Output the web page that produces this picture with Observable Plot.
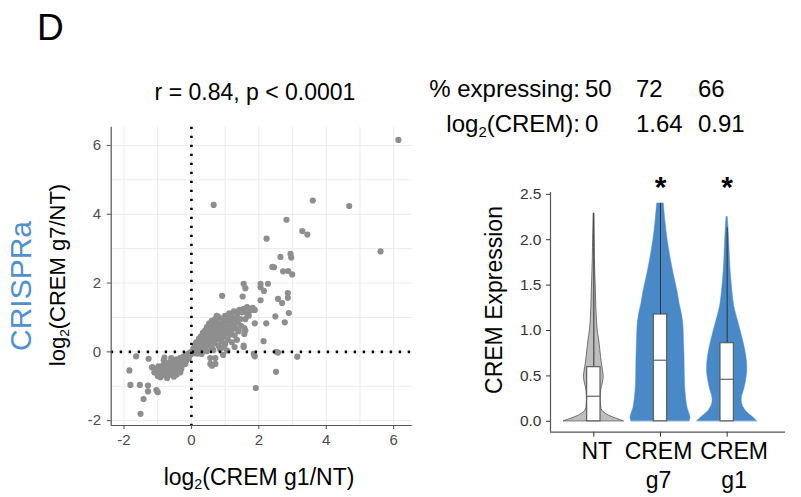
<!DOCTYPE html>
<html>
<head>
<meta charset="utf-8">
<script src="https://cdn.jsdelivr.net/npm/d3@7"></script>
<script src="https://cdn.jsdelivr.net/npm/@observablehq/plot@0.6"></script>
<style>
  body { margin: 0; background: #fff; }
  #chart { position: relative; width: 801px; height: 497px; overflow: hidden; font-family: "Liberation Sans", Arial, sans-serif; color: #000; }
  .t { position: absolute; white-space: nowrap; line-height: 1; }
  .sub { font-size: 0.62em; position: relative; top: 0.32em; line-height: 0; }
  .abs { position: absolute; }
</style>
</head>
<body>
<div id="chart"></div>
<script>
// ---------------- data ----------------
// scatter: [log2(CREM g1/NT), log2(CREM g7/NT)]
const log2FC = [
  [6.14,6.16],[0.66,4.27],[3.60,4.40],[4.68,4.24],[2.82,3.84],[2.23,3.29],[3.29,3.51],[3.44,3.41],
  [5.61,2.92],[2.64,2.76],[2.94,2.85],[2.96,2.74],[2.40,2.47],[2.45,2.46],[2.72,2.34],[2.87,2.35],
  [2.99,2.25],[1.55,1.98],[1.60,1.85],[1.52,1.61],[2.05,1.98],[2.05,1.88],[2.15,1.77],[2.27,1.98],
  [0.91,1.63],[2.05,1.50],[2.57,1.54],[2.69,1.42],[2.86,1.71],[2.86,1.57],[2.89,1.13],[2.49,1.03],
  [2.77,0.86],[2.22,0.83],[1.88,1.22],[1.73,1.22],[1.65,1.11],[1.88,0.83],[1.57,0.69],[1.57,0.52],
  [1.55,0.18],[1.55,0.14],[2.14,0.31],[1.28,0.14],[1.85,-0.06],[1.88,-0.13],[2.52,0.00],[2.57,-0.02],
  [3.14,-0.14],[2.51,-0.58],[1.91,-1.05],[0.56,-0.18],[0.56,-0.35],[0.71,-0.35],[0.71,-0.18],[0.94,-0.09],
  [1.06,0.04],[0.96,0.13],[0.61,-0.40],
  [-1.84,-0.54],[-1.81,-0.96],[-1.64,-0.13],[-1.53,-0.96],[-1.51,-1.80],[-1.42,-1.37],[-1.29,-0.98],
  [-1.29,-1.15],[-1.27,-0.20],[-1.17,-0.45],[-1.04,-1.11],[-1.00,-1.17],[-0.80,-0.17],[-0.92,-0.74],
  [-1.15,-0.45],[-1.10,-0.60],[-1.05,-0.50],[-1.00,-0.70],[-0.98,-0.42],[-0.95,-0.58],[-0.92,-0.72],
  [-0.90,-0.50],[-0.88,-0.65],[-0.85,-0.40],[-0.83,-0.55],[-0.80,-0.68],[-0.78,-0.47],[-0.76,-0.60],
  [-0.74,-0.35],[-0.72,-0.52],[-0.70,-0.70],[-0.68,-0.44],[-0.66,-0.58],[-0.64,-0.30],[-0.62,-0.50],
  [-0.60,-0.64],[-0.58,-0.40],[-0.56,-0.55],[-0.54,-0.28],[-0.52,-0.46],[-0.50,-0.60],[-0.48,-0.36],
  [-0.46,-0.50],[-0.44,-0.22],[-0.42,-0.42],[-0.40,-0.55],[-0.38,-0.30],[-0.36,-0.45],[-0.34,-0.18],
  [-0.32,-0.36],[-0.30,-0.50],[-0.28,-0.25],[-0.26,-0.38],[-0.24,-0.14],[-0.22,-0.30],[-0.20,-0.20],
  [-0.18,-0.35],[-0.16,-0.10],[-0.14,-0.24],[-0.12,-0.15],[-0.10,-0.06],[-0.08,-0.20],[-0.06,-0.10],
  [-0.04,-0.02],[-0.02,-0.08],[-0.52,-0.72],[-0.44,-0.66],[-0.60,-0.18],[-0.82,-0.25],[-0.72,-0.76],
  [-0.33,-0.60],
  [0.03,0.02],[0.06,0.10],[0.08,-0.04],[0.10,0.18],[0.12,0.05],[0.14,0.28],[0.16,0.12],[0.18,-0.05],
  [0.20,0.22],[0.22,0.38],[0.24,0.08],[0.26,0.30],[0.28,0.45],[0.30,0.15],[0.30,-0.06],
  [0.32,0.35],[0.34,0.55],[0.36,0.22],[0.38,0.42],[0.40,0.62],[0.40,0.05],[0.42,0.30],[0.44,0.50],
  [0.46,0.72],[0.48,0.18],[0.50,0.40],[0.50,0.60],[0.52,0.82],[0.54,0.28],[0.56,0.50],[0.58,0.68],
  [0.60,0.90],[0.60,0.12],[0.45,0.02],[0.35,0.10],
  [0.62,0.38],[0.64,0.58],[0.66,0.78],[0.68,0.25],[0.70,0.48],[0.70,0.95],[0.72,0.65],[0.74,0.35],
  [0.76,0.85],[0.78,0.55],[0.80,0.72],[0.80,0.18],[0.82,1.00],[0.84,0.42],[0.86,0.62],[0.88,0.82],
  [0.90,0.30],[0.90,0.52],[0.65,0.05],[0.75,1.05],[0.85,0.08],
  [0.92,0.70],[0.94,0.92],[0.96,0.45],[0.98,0.62],[1.00,1.05],[1.00,0.22],[1.02,0.80],[1.04,0.55],
  [1.06,0.95],[1.08,0.35],[1.10,0.72],[1.12,1.12],[1.14,0.50],[1.16,0.88],[1.18,0.62],[1.20,1.02],
  [1.20,0.28],
  [1.24,0.78],[1.26,1.18],[1.28,0.48],[1.30,0.95],[1.32,0.68],[1.36,1.10],[1.38,0.85],[1.40,0.60],
  [1.42,1.22],[1.45,0.95],[1.48,0.75],[1.50,1.15],[1.35,0.35],
  [1.55,1.25],[1.60,0.95],[1.65,1.30],[1.70,1.05],[1.75,1.20],[1.82,1.28],[1.60,0.62]
];
const scatterAxisTicks = [-2, 0, 2, 4, 6];
const scatterGrid = [-2, -1, 0, 1, 2, 3, 4, 5, 6];

// violin / box summary
const groups = ["NT", "CREM g7", "CREM g1"];
const groupLabels = ["NT", "CREM\ng7", "CREM\ng1"];
const q1 = [0, 0, 0];
const medians = [0.276, 0.673, 0.463];
const q3 = [0.596, 1.176, 0.86];
const whiskerTop = [2.29, 2.40, 2.13];
const significant = ["CREM g7", "CREM g1"];
// density profiles (relative width, 1 = widest)
const ntLevels  = [0, 0.03, 0.06, 0.118, 0.18, 0.25, 0.35, 0.42, 0.485, 0.55, 0.63, 0.71, 0.8, 0.89, 1.0, 1.2, 1.44, 1.62, 1.81, 2.0, 2.15, 2.29];
const ntDensity = [1.0, 0.75, 0.52, 0.28, 0.24, 0.23, 0.25, 0.3, 0.33, 0.31, 0.27, 0.24, 0.21, 0.18, 0.13, 0.09, 0.067, 0.05, 0.033, 0.025, 0.015, 0.005];
const g7Levels  = [0, 0.04, 0.15, 0.34, 0.5, 0.71, 0.9, 1.07, 1.2, 1.29, 1.44, 1.62, 1.81, 1.99, 2.18, 2.4];
const g7Density = [0.97, 1.0, 0.9, 0.83, 0.81, 0.8, 0.78, 0.76, 0.7, 0.64, 0.56, 0.44, 0.33, 0.24, 0.17, 0.11];
const g1Levels  = [0, 0.04, 0.12, 0.19, 0.26, 0.33, 0.41, 0.56, 0.71, 0.89, 1.07, 1.26, 1.44, 1.63, 1.81, 1.99, 2.13, 2.25];
const g1Density = [1.0, 0.88, 0.61, 0.5, 0.49, 0.55, 0.61, 0.67, 0.64, 0.53, 0.39, 0.24, 0.17, 0.12, 0.09, 0.067, 0.045, 0.02];
const yTicks = [0, 0.5, 1, 1.5, 2, 2.5];

// annotation table
const pctExpressing = ["50", "72", "66"];
const log2Crem = ["0", "1.64", "0.91"];

// ---------------- build ----------------
const chart = document.getElementById("chart");
const FONT = "Liberation Sans, Arial, sans-serif";
const BLUE = "#4a89c8";

function addText(html, style) {
  const d = document.createElement("div");
  d.className = "t";
  d.innerHTML = html;
  Object.assign(d.style, style);
  chart.appendChild(d);
  return d;
}

// Scatter
const pts = log2FC.map(([g1, g7]) => ({g1, g7}));
const xDomain = [-2.38, 6.55];
const yDomain = [-2.14, 6.53];
const scatter = Plot.plot({
  width: 360, height: 360,
  marginLeft: 50.7, marginRight: 8.3, marginTop: 6.7, marginBottom: 55,
  style: {fontFamily: FONT, background: "transparent", overflow: "visible"},
  x: {domain: xDomain},
  y: {domain: yDomain},
  marks: [
    Plot.gridX(scatterGrid, {stroke: "#ebebeb", strokeOpacity: 1, strokeWidth: 1}),
    Plot.gridY(scatterGrid, {stroke: "#ebebeb", strokeOpacity: 1, strokeWidth: 1}),
    Plot.dot(pts, {x: "g1", y: "g7", r: 3.1, fill: "#8e8e8e", stroke: "none"}),
    Plot.ruleX([0], {stroke: "#000", strokeWidth: 2.6, strokeDasharray: "2.4,6.6"}),
    Plot.ruleY([0], {stroke: "#000", strokeWidth: 2.6, strokeDasharray: "2.4,6.6"}),
    Plot.ruleX([xDomain[0]], {stroke: "#555", strokeWidth: 1.2}),
    Plot.ruleY([yDomain[0]], {stroke: "#555", strokeWidth: 1.2}),
    Plot.axisX(scatterAxisTicks, {tickSize: 4, tickPadding: 5, fontSize: 15, color: "#4d4d4d", label: null, tickFormat: d => String(d)}),
    Plot.axisY(scatterAxisTicks, {tickSize: 4, tickPadding: 6, fontSize: 15, color: "#4d4d4d", label: null, tickFormat: d => String(d)})
  ]
});
const sw = document.createElement("div");
sw.className = "abs";
Object.assign(sw.style, {left: "60px", top: "120px"});
sw.appendChild(scatter);
chart.appendChild(sw);

// Violin
const maxHalf = 0.45;
const profiles = [[ntLevels, ntDensity], [g7Levels, g7Density], [g1Levels, g1Density]];
const violinRows = [];
profiles.forEach(([lv, dn], i) => {
  const pos = i + 1;
  lv.forEach((y, j) => violinRows.push({group: groups[i], y, lo: pos - dn[j] * maxHalf, hi: pos + dn[j] * maxHalf}));
});
const boxes = groups.map((g, i) => ({group: g, label: groupLabels[i], pos: i + 1, q1: q1[i], med: medians[i], q3: q3[i], top: whiskerTop[i]}));
const sig = significant.map(g => ({group: g, pos: groups.indexOf(g) + 1}));
const vxDomain = [0.35, 3.875];
const vyDomain = [-0.12, 2.52];
const labelOpts = {x: "pos", text: "label", frameAnchor: "bottom", lineAnchor: "top", dy: 7, fontSize: 23, lineHeight: 1.23, fill: "#000"};
const violin = Plot.plot({
  width: 331, height: 332,
  marginLeft: 80, marginRight: 16, marginTop: 27, marginBottom: 65.3,
  style: {fontFamily: FONT, background: "transparent", overflow: "visible"},
  x: {domain: vxDomain},
  y: {domain: vyDomain},
  marks: [
    Plot.areaX(violinRows, {filter: d => d.group === "NT", y: "y", x1: "lo", x2: "hi", fill: "#bebebe", stroke: "#444", strokeWidth: 0.7, curve: "catmull-rom"}),
    Plot.areaX(violinRows, {filter: d => d.group !== "NT", y: "y", x1: "lo", x2: "hi", z: "group", fill: BLUE, stroke: BLUE, strokeWidth: 0.5, curve: "catmull-rom"}),
    Plot.ruleX(boxes, {x: "pos", y1: "q3", y2: "top", stroke: "#333", strokeWidth: 1}),
    Plot.rect(boxes, {x1: d => d.pos - 0.1, x2: d => d.pos + 0.1, y1: "q1", y2: "q3", fill: "#fff", stroke: "#555", strokeWidth: 1.1}),
    Plot.ruleY(boxes, {y: "med", x1: d => d.pos - 0.1, x2: d => d.pos + 0.1, stroke: "#555", strokeWidth: 1.1}),
    Plot.text(sig, {x: "pos", text: () => "*", frameAnchor: "top", dy: -17, fontSize: 30, fontWeight: "bold", fill: "#000"}),
    Plot.ruleX([vxDomain[0]], {stroke: "#555", strokeWidth: 1.2}),
    Plot.ruleY([vyDomain[0]], {stroke: "#555", strokeWidth: 1.2}),
    Plot.axisX([1, 2, 3], {tickSize: 5, stroke: "#333", label: null, tickFormat: null, text: null}),
    Plot.text(boxes, {...labelOpts, filter: d => d.group === "NT", dx: 3}),
    Plot.text(boxes, {...labelOpts, filter: d => d.group === "CREM g7", dx: -2}),
    Plot.text(boxes, {...labelOpts, filter: d => d.group === "CREM g1", dx: 7}),
    Plot.axisY(yTicks, {tickSize: 4, tickPadding: 5, fontSize: 15.5, color: "#333", label: null, tickFormat: d3.format(".1f")})
  ]
});
const vw = document.createElement("div");
vw.className = "abs";
Object.assign(vw.style, {left: "470px", top: "165px"});
vw.appendChild(violin);
chart.appendChild(vw);

// Texts
const asc = 0.8465;
addText("D", {left: "37px", top: (40 - asc * 37) + "px", fontSize: "37px"});
addText("r = 0.84, p &lt; 0.0001", {left: "255px", top: (100 - asc * 23) + "px", fontSize: "23px", transform: "translateX(-50%)"});
addText("CRISPRa", {left: "21px", top: "286px", fontSize: "30px", color: "#4e90d0", transform: "translate(-50%,-50%) rotate(-90deg)"});
addText('log<span class="sub">2</span>(CREM g7/NT)', {left: "58px", top: "275px", fontSize: "22px", transform: "translate(-50%,-50%) rotate(-90deg)"});
addText('log<span class="sub">2</span>(CREM g1/NT)', {left: "259px", top: (485 - asc * 23) + "px", fontSize: "23px", transform: "translateX(-50%)"});
addText("CREM Expression", {left: "494px", top: "300px", fontSize: "23px", transform: "translate(-50%,-50%) rotate(-90deg)"});

const rowFs = 24;
addText("% expressing:", {left: "580px", top: (97.3 - asc * rowFs) + "px", fontSize: rowFs + "px", transform: "translateX(-100%)"});
addText('log<span class="sub">2</span>(CREM):', {left: "580px", top: (132.7 - asc * rowFs) + "px", fontSize: rowFs + "px", transform: "translateX(-100%)"});
const colX = [585, 636, 698];
pctExpressing.forEach((v, i) => addText(v, {left: colX[i] + "px", top: (97.3 - asc * rowFs) + "px", fontSize: rowFs + "px"}));
log2Crem.forEach((v, i) => addText(v, {left: colX[i] + "px", top: (132.7 - asc * rowFs) + "px", fontSize: rowFs + "px"}));
</script>
</body>
</html>
